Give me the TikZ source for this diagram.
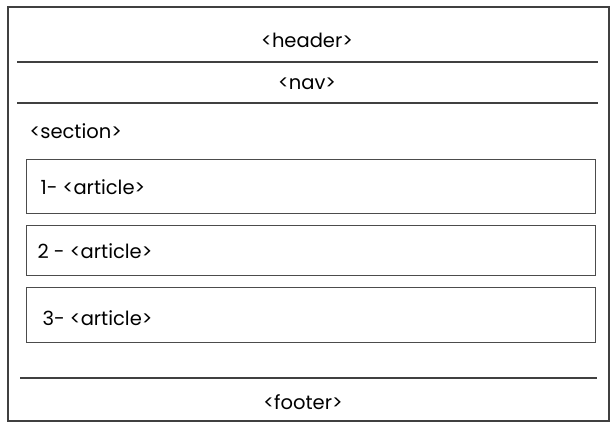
\documentclass[tikz,border=0pt]{standalone}
\usepackage{fontspec}
\setmainfont{Poppins}

\begin{document}
\begin{tikzpicture}[x=1pt,y=-1pt,font=\fontsize{19.5}{23}\selectfont]
    \useasboundingbox (0,0) rectangle (615,430);
    % Page frame
    \draw[line width=2pt,black!75] (8,7) rectangle (609,421);
    % Header
    \node (header) at (307,40) {<header>};
    \draw[line width=1.4pt,black!75] (17,62) -- (598,62);
    % Nav
    \node (nav) at (307,84) {<nav>};
    \draw[line width=1.4pt,black!75] (17,103) -- (598,103);
    % Section
    \node[right] (section) at (26,131) {<section>};
    % Articles
    \draw[line width=1pt,black!70] (26,160) rectangle (595,214);
    \node[right] (art1) at (37,187) {1- <article>};
    \draw[line width=1pt,black!70] (26,226) rectangle (595,275);
    \node[right] (art2) at (34,251) {2 - <article>};
    \draw[line width=1pt,black!70] (26,287) rectangle (595,342);
    \node[right] (art3) at (39,318) {3- <article>};
    % Footer
    \draw[line width=1.4pt,black!75] (20,378) -- (597,378);
    \node (footer) at (303,402) {<footer>};
\end{tikzpicture}
\end{document}
